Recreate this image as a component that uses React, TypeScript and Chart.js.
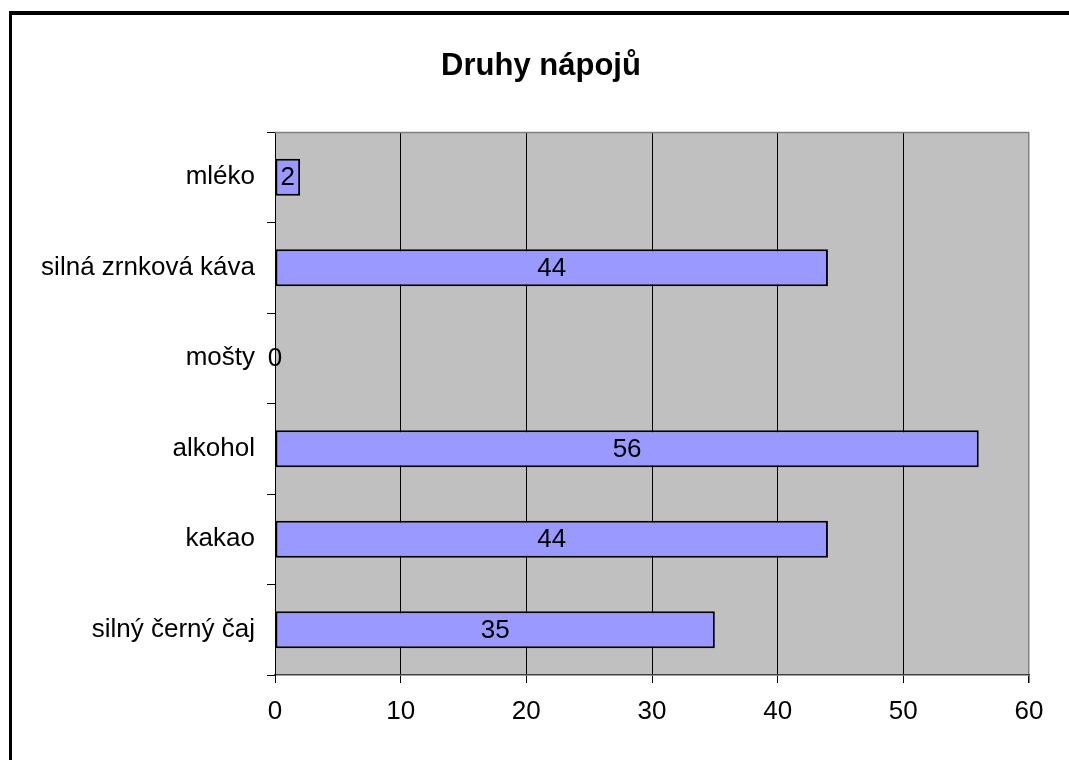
import React, { useEffect, useRef } from "react";
import { Chart, registerables } from "chart.js";

Chart.register(...registerables);

const titleText = "Druhy nápojů";
const categories = [
  "mléko",
  "silná zrnková káva",
  "mošty",
  "alkohol",
  "kakao",
  "silný černý čaj",
];
const values = [2, 44, 0, 56, 44, 35];
const xTicks = [0, 10, 20, 30, 40, 50, 60];

const FONT = "'Liberation Sans', Arial, sans-serif";

const decorPlugin = {
  id: "decor",
  beforeDraw(chart: any) {
    const { ctx, chartArea: a, width, height } = chart;
    ctx.save();
    ctx.fillStyle = "#ffffff";
    ctx.fillRect(0, 0, width, height);
    ctx.fillStyle = "#c0c0c0";
    ctx.fillRect(a.left, a.top, a.right - a.left, a.bottom - a.top);
    ctx.restore();
  },
  afterDraw(chart: any) {
    const { ctx, chartArea: a } = chart;
    ctx.save();
    // plot-area top border
    ctx.strokeStyle = "#808080";
    ctx.lineWidth = 1.5;
    ctx.beginPath();
    ctx.moveTo(a.left, a.top + 0.5);
    ctx.lineTo(a.right, a.top + 0.5);
    ctx.stroke();
    // outer frame
    ctx.fillStyle = "#000000";
    ctx.fillRect(9, 11, 2000, 4);
    ctx.fillRect(9, 11, 3, 2000);
    // title
    ctx.fillStyle = "#000000";
    ctx.font = "bold 31px " + FONT;
    ctx.textAlign = "center";
    ctx.textBaseline = "middle";
    ctx.fillText(titleText, 541, 66);
    ctx.restore();
  },
  afterDatasetsDraw(chart: any) {
    const { ctx } = chart;
    const meta = chart.getDatasetMeta(0);
    ctx.save();
    ctx.fillStyle = "#000000";
    ctx.font = "26px " + FONT;
    ctx.textAlign = "center";
    ctx.textBaseline = "middle";
    meta.data.forEach((el: any, i: number) => {
      const p = el.getProps(["x", "base", "y"], true);
      ctx.fillText(String(values[i]), (p.x + p.base) / 2, p.y + 1);
    });
    ctx.restore();
  },
};

export default function App() {
  const ref = useRef<HTMLCanvasElement | null>(null);
  useEffect(() => {
    if (!ref.current) return;
    const chart = new Chart(ref.current, {
      type: "bar",
      data: {
        labels: categories,
        datasets: [
          {
            data: values,
            backgroundColor: "#9999ff",
            borderColor: "#000000",
            borderWidth: 2,
            borderSkipped: false,
            categoryPercentage: 1,
            barPercentage: 0.41,
          },
        ],
      },
      options: {
        indexAxis: "y",
        responsive: false,
        animation: false,
        devicePixelRatio: 1,
        layout: { padding: { top: 132, right: 40, left: 0, bottom: 0 } },
        plugins: {
          legend: { display: false },
          title: { display: false },
          tooltip: { enabled: false },
        },
        scales: {
          x: {
            type: "linear",
            min: 0,
            max: 60,
            afterFit(scale: any) {
              scale.height = 85;
            },
            afterBuildTicks(scale: any) {
              scale.ticks = xTicks.map((v) => ({ value: v }));
            },
            ticks: {
              color: "#000000",
              font: { family: FONT, size: 26 },
              padding: 13,
              maxRotation: 0,
            },
            grid: {
              color: (c: any) =>
                c.tick && c.tick.value === 60 ? "#808080" : "#000000",
              lineWidth: (c: any) => (c.tick && c.tick.value === 60 ? 1.5 : 1),
              tickColor: "#000000",
              tickLength: 8,
              drawTicks: true,
            },
            border: { color: "#404040", width: 1.5 },
          },
          y: {
            type: "category",
            afterFit(scale: any) {
              scale.width = 275;
            },
            ticks: {
              color: "#000000",
              font: { family: FONT, size: 26 },
              padding: 12,
            },
            grid: {
              offset: true,
              drawOnChartArea: false,
              drawTicks: true,
              tickLength: 8,
              color: "#000000",
              tickColor: "#000000",
            },
            border: { color: "#000000", width: 1 },
          },
        },
      },
      plugins: [decorPlugin],
    } as any);
    return () => chart.destroy();
  }, []);
  return (
    <div style={{ position: "absolute", left: 0, top: 0 }}>
      <canvas
        ref={ref}
        width={1069}
        height={760}
        style={{ display: "block", width: 1069, height: 760 }}
      />
    </div>
  );
}
